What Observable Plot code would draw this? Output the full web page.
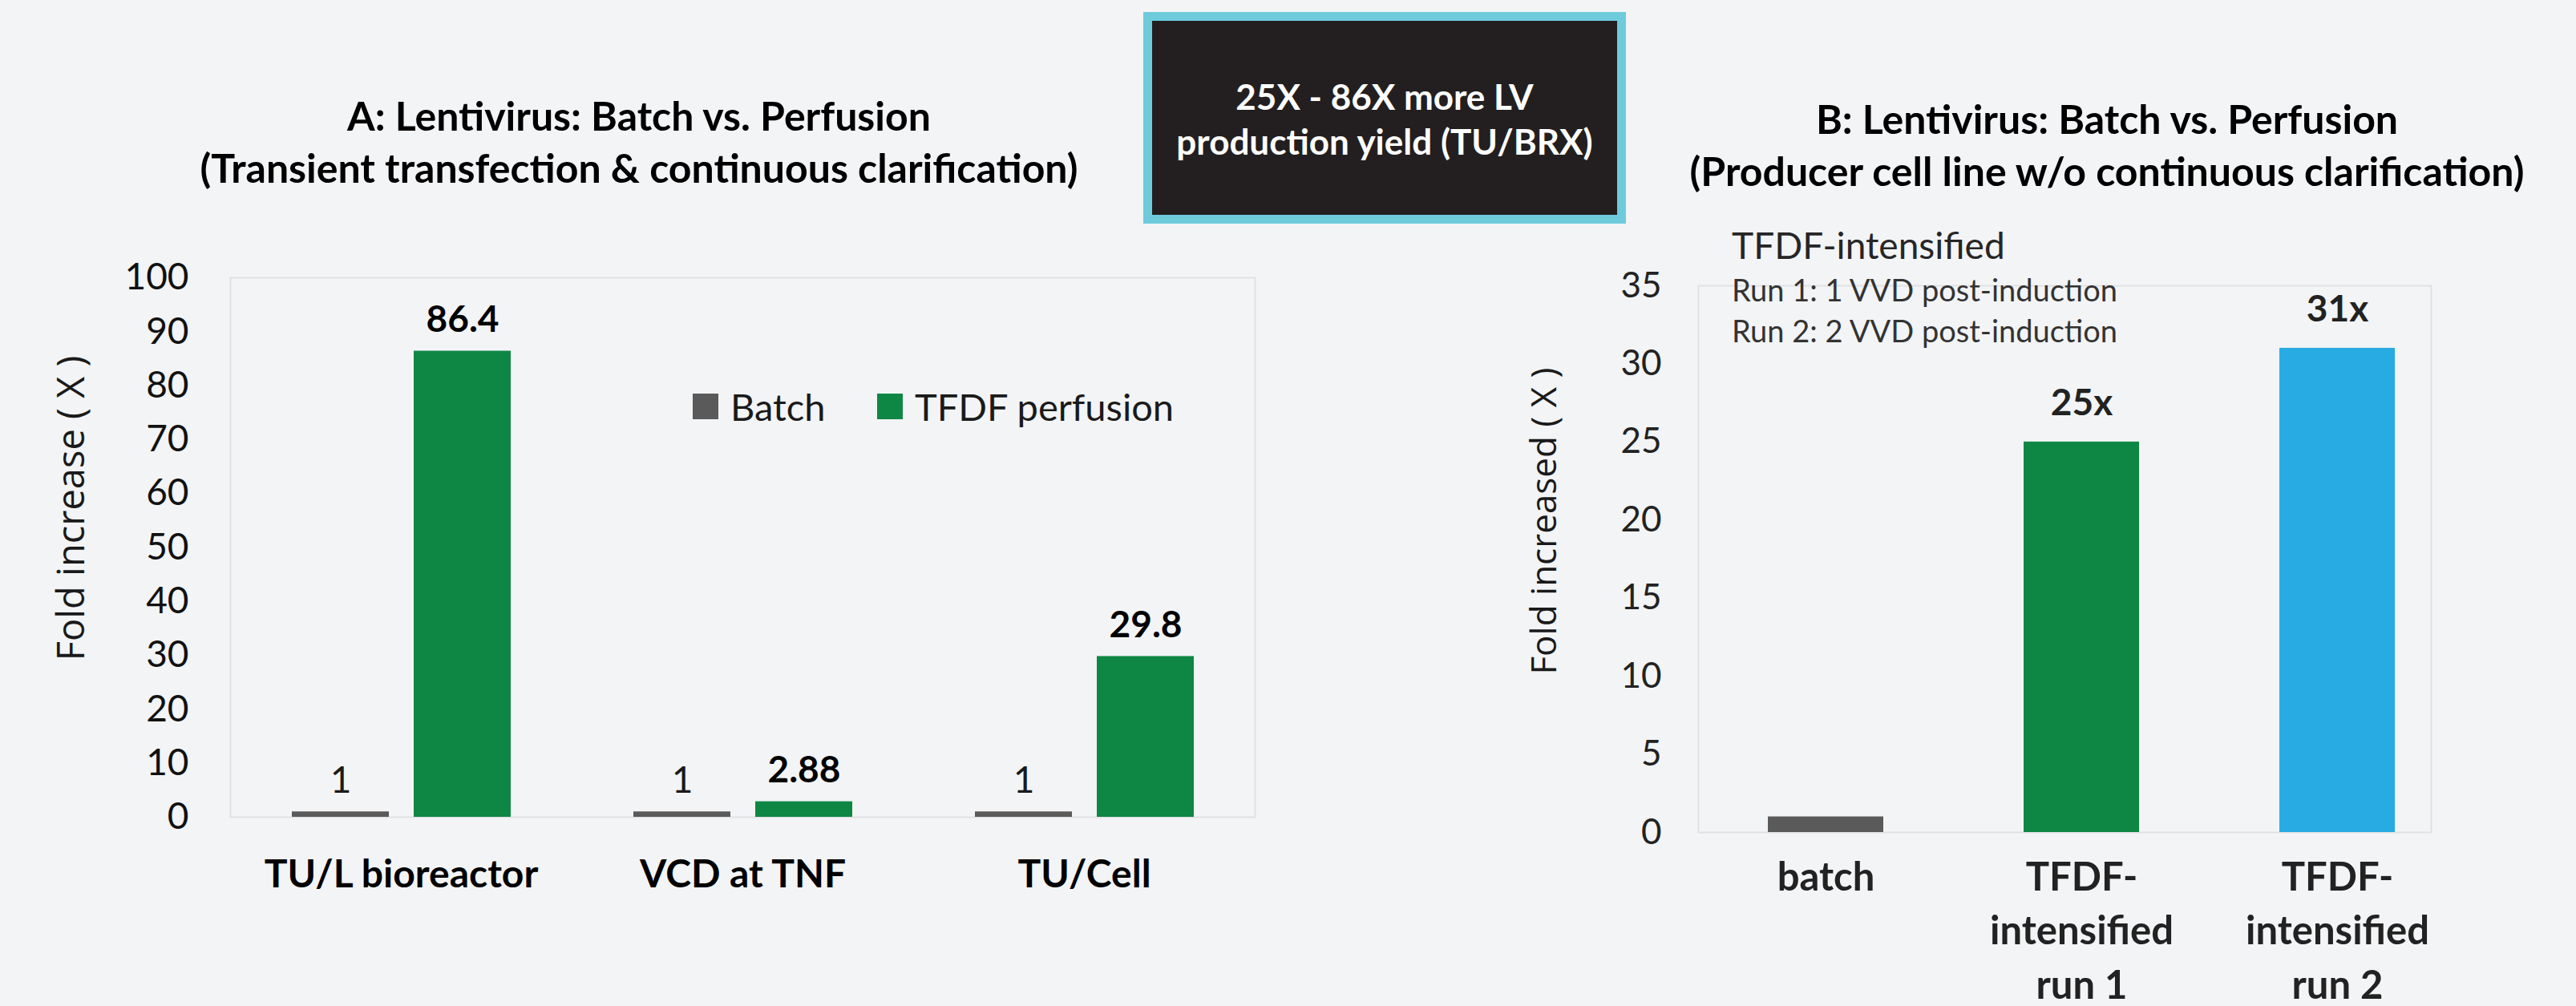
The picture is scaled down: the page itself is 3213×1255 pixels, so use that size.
<!DOCTYPE html>
<html>
<head>
<meta charset="utf-8">
<script src="https://cdn.jsdelivr.net/npm/d3@7"></script>
<script src="https://cdn.jsdelivr.net/npm/@observablehq/plot@0.6"></script>
<style>
  html, body { margin: 0; padding: 0; }
  body { width: 3213px; height: 1255px; background: #f3f4f6; position: relative; overflow: hidden; font-family: Lato, sans-serif; }
  .abs { position: absolute; white-space: nowrap; }
  .title { font-weight: bold; font-size: 50px; line-height: 1.2; color: #000; text-align: center; width: 1600px; }
  .ytitle { font-family: "Open Sans", sans-serif; color: #1a1a1a; width: 700px; height: 70px; line-height: 70px; text-align: center; transform: rotate(-90deg); }
  .box { left: 1426px; top: 15px; width: 602px; height: 264px; box-sizing: border-box; border: 11px solid #6ecbdb; background: #231f20; }
  .boxtext { color: #fff; font-weight: bold; font-size: 44px; line-height: 1.2; text-align: center; width: 602px; left: 1426px; }
  .legend { display: flex; align-items: center; font-size: 47px; color: #1a1a1a; height: 60px; }
  .swatch { width: 32px; height: 32px; margin-right: 15px; }
  .plot { position: absolute; }
</style>
</head>
<body>
<script>
// ---------- Panel A data ----------
const categoriesA = ["TU/L bioreactor", "VCD at TNF", "TU/Cell"];
const seriesA = ["Batch", "TFDF perfusion"];
const batchA = [1, 1, 1];
const perfusionA = [86.4, 2.88, 29.8];
const colorsA = ["#5a5a5a", "#0f8744"];
const yTicksA = [0, 10, 20, 30, 40, 50, 60, 70, 80, 90, 100];

// ---------- Panel B data ----------
const categoriesB = ["batch", "TFDF-\nintensified\nrun 1", "TFDF-\nintensified\nrun 2"];
const valuesB = [1, 25, 31];
const valueLabelsB = ["", "25x", "31x"];
const colorsB = ["#5a5a5a", "#0f8744", "#28abe2"];
const yTicksB = [0, 5, 10, 15, 20, 25, 30, 35];

// ---------- Text ----------
const titleA = ["A: Lentivirus: Batch vs. Perfusion", "(Transient transfection & continuous clarification)"];
const titleB = ["B: Lentivirus: Batch vs. Perfusion", "(Producer cell line w/o continuous clarification)"];
const boxText = ["25X - 86X more LV", "production yield (TU/BRX)"];
const yLabelA = "Fold increase ( X )";
const yLabelB = "Fold increased ( X )";
const noteB = ["TFDF-intensified", "Run 1: 1 VVD post-induction", "Run 2: 2 VVD post-induction"];

const dataA = categoriesA.flatMap((c, i) => [
  {category: c, series: seriesA[0], value: batchA[i]},
  {category: c, series: seriesA[1], value: perfusionA[i]}
]);
const dataB = categoriesB.map((c, i) => ({category: c, value: valuesB[i], label: valueLabelsB[i], color: colorsB[i]}));

function el(cls, text, style) {
  const d = document.createElement("div");
  d.className = cls;
  if (text != null) d.textContent = text;
  Object.assign(d.style, style || {});
  document.body.appendChild(d);
  return d;
}

// Titles
el("abs title", titleA[0], {left: (797 - 800) + "px", top: "114px"});
el("abs title", titleA[1], {left: (797 - 800) + "px", top: "179px"});
el("abs title", titleB[0], {left: (2628 - 800) + "px", top: "118px"});
el("abs title", titleB[1], {left: (2628 - 800) + "px", top: "183px"});

// Highlight box
el("abs box", null, {});
el("abs boxtext", boxText[0], {top: "94px"});
el("abs boxtext", boxText[1], {top: "150px"});

// Panel A chart
const plotA = Plot.plot({
  width: 1620, height: 955,
  marginLeft: 287, marginRight: 55, marginTop: 46, marginBottom: 236,
  style: {background: "transparent", fontFamily: "Lato, sans-serif", overflow: "visible", color: "#111"},
  fx: {domain: categoriesA, padding: 0, label: null, axis: null},
  x: {domain: seriesA, paddingInner: 0.204, paddingOuter: 0.5, axis: null},
  y: {domain: [0, 100], label: null},
  color: {domain: seriesA, range: colorsA},
  marks: [
    Plot.frame({facet: "super", stroke: "#e0e1e3", strokeWidth: 2}),
    Plot.barY(dataA, {fx: "category", x: "series", y: "value", fill: "series"}),
    Plot.text(dataA.filter(d => d.series === seriesA[0]), {fx: "category", x: "series", y: "value", text: d => String(d.value), dy: -39, fontSize: 46, fill: "#1a1a1a"}),
    Plot.text(dataA.filter(d => d.series === seriesA[1]), {fx: "category", x: "series", y: "value", text: d => String(d.value), dy: -39, fontSize: 46, fontWeight: "bold", fill: "#000"}),
    Plot.axisY({ticks: yTicksA, tickSize: 0, tickPadding: 52, fontSize: 46, label: null, fill: "#111"}),
    Plot.axisFx({anchor: "bottom", tickSize: 0, tickPadding: 53, fontSize: 48, fontWeight: "bold", label: null, fill: "#000"})
  ]
});
plotA.classList.add("plot");
plotA.style.left = "0px"; plotA.style.top = "300px";
document.body.appendChild(plotA);

el("abs ytitle", yLabelA, {left: (87 - 350) + "px", top: (634 - 35) + "px", fontSize: "47px"});

// Legend for A
const leg1 = el("abs legend", null, {left: "864px", top: "477px"});
const sw1 = document.createElement("div"); sw1.className = "swatch"; sw1.style.background = colorsA[0]; leg1.appendChild(sw1);
leg1.appendChild(document.createTextNode(seriesA[0]));
const leg2 = el("abs legend", null, {left: "1094px", top: "477px"});
const sw2 = document.createElement("div"); sw2.className = "swatch"; sw2.style.background = colorsA[1]; leg2.appendChild(sw2);
leg2.appendChild(document.createTextNode(seriesA[1]));

// Panel B chart
const plotB = Plot.plot({
  width: 1413, height: 955,
  marginLeft: 318, marginRight: 181, marginTop: 56, marginBottom: 217,
  style: {background: "transparent", fontFamily: "Lato, sans-serif", overflow: "visible", color: "#111"},
  x: {domain: categoriesB, paddingInner: 0.549, paddingOuter: 0, insetLeft: 87, insetRight: 45, label: null},
  y: {domain: [0, 35], label: null},
  marks: [
    Plot.frame({stroke: "#e0e1e3", strokeWidth: 2}),
    Plot.barY(dataB, {x: "category", y: "value", fill: "color"}),
    Plot.text(dataB, {x: "category", y: "value", text: "label", dy: -48, fontSize: 46, fontWeight: "bold", fill: "#222"}),
    Plot.axisY({ticks: yTicksB, tickSize: 0, tickPadding: 46, fontSize: 44, label: null, fill: "#222"}),
    Plot.axisX({tickSize: 0, tickPadding: 24, fontSize: 49, fontWeight: "bold", lineHeight: 1.38, label: null, fill: "#222"})
  ]
});
plotB.classList.add("plot");
plotB.style.left = "1800px"; plotB.style.top = "300px";
document.body.appendChild(plotB);

el("abs ytitle", yLabelB, {left: (1924 - 350) + "px", top: (650 - 35) + "px", fontSize: "44px"});

// Annotation B
el("abs", noteB[0], {left: "2160px", top: "278px", fontSize: "46px", lineHeight: "1.2", color: "#262626"});
el("abs", noteB[1], {left: "2160px", top: "339px", fontSize: "38px", lineHeight: "1.2", color: "#333"});
el("abs", noteB[2], {left: "2160px", top: "390px", fontSize: "38px", lineHeight: "1.2", color: "#333"});
</script>
</body>
</html>
